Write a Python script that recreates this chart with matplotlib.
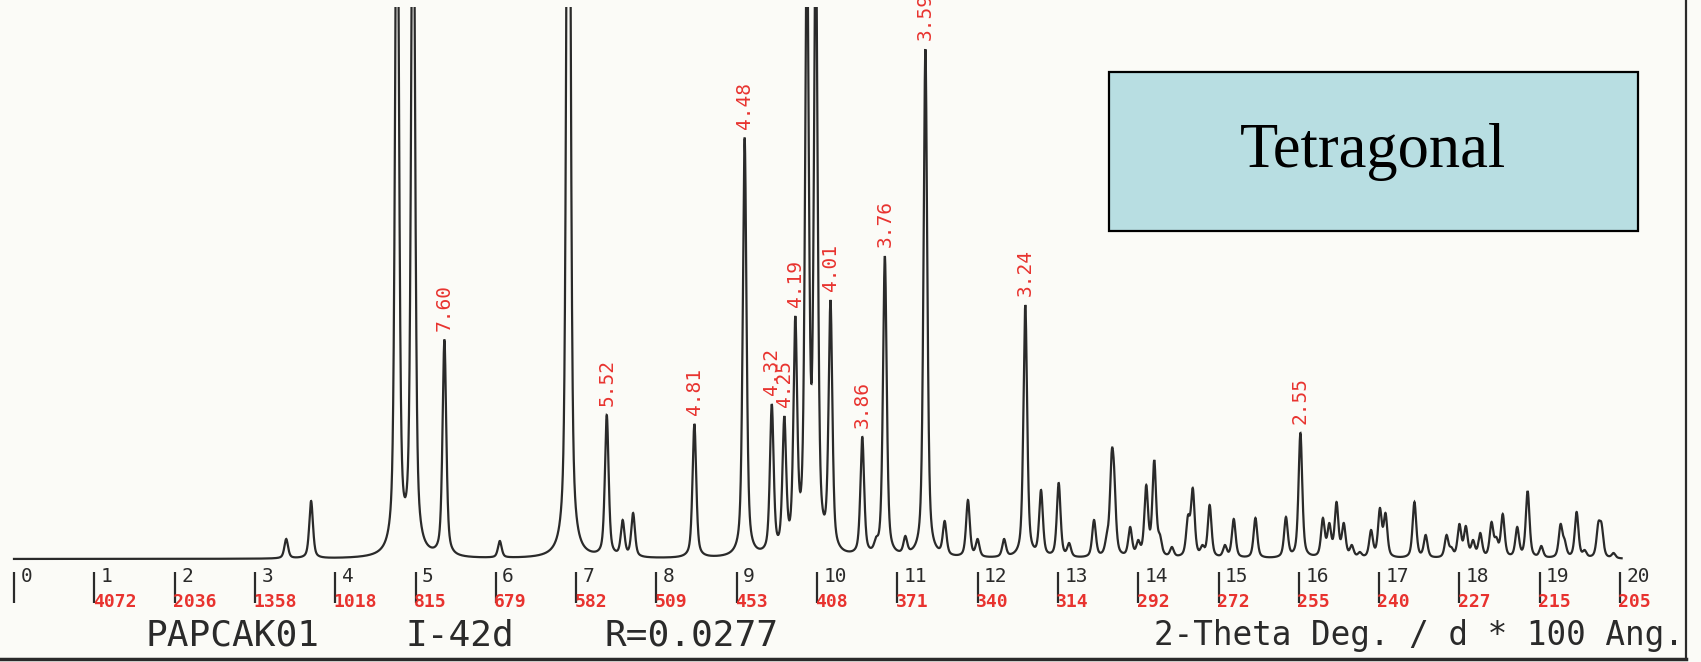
import numpy as np
import matplotlib.pyplot as plt
from matplotlib.patches import Rectangle

# peak list (2-theta in deg, peak top above baseline)
two_theta = [3.39, 3.70, 4.77, 4.97, 5.36, 6.05, 6.905, 7.382, 7.58, 7.71,
             8.473, 9.099, 9.437, 9.593, 9.730, 9.875, 9.985, 10.168, 10.564, 10.735,
             10.845, 11.10, 11.35, 11.59, 11.88, 12.00, 12.33, 12.594, 12.79, 13.01,
             13.14, 13.45, 13.61, 13.67, 13.70, 13.90, 14.00, 14.10, 14.20, 14.27,
             14.42, 14.62, 14.68, 14.80, 14.89, 15.08, 15.19, 15.46, 15.84, 16.02,
             16.30, 16.38, 16.47, 16.56, 16.66, 16.76, 16.90, 17.01, 17.08, 17.44,
             17.58, 17.84, 17.90, 18.00, 18.08, 18.17, 18.26, 18.40, 18.46, 18.54,
             18.72, 18.85, 19.02, 19.26, 19.31, 19.46, 19.56, 19.73, 19.77, 19.92]
peak_height = [20, 58, 800, 800, 219, 18, 1100, 144, 39, 46,
               135, 421, 155, 143, 243, 640, 640, 259, 122, 22,
               303, 23, 510, 38, 59, 20, 20, 254, 69, 76,
               16, 39, 26, 108, 92, 32, 19, 74, 99, 25,
               12, 44, 71, 14, 54, 14, 40, 41, 42, 126,
               41, 36, 57, 36, 14, 7, 29, 51, 46, 57,
               24, 24, 12, 35, 33, 19, 26, 37, 22, 45,
               32, 68, 13, 35, 20, 47, 9, 37, 36, 6]

# labelled reflections (d in Angstrom)
label_theta = [5.36, 7.382, 8.473, 9.099, 9.437, 9.593, 9.730, 10.168,
               10.564, 10.845, 11.35, 12.594, 16.02]
label_text = ["7.60", "5.52", "4.81", "4.48", "4.32", "4.25", "4.19", "4.01",
              "3.86", "3.76", "3.59", "3.24", "2.55"]

# axis ticks: 2-theta and d*100 (Mo K-alpha)
tick_deg = list(range(0, 21))
tick_d = ["", "4072", "2036", "1358", "1018", "815", "679", "582", "509", "453", "408",
          "371", "340", "314", "292", "272", "255", "240", "227", "215", "205"]

FWHM = 0.055
ETA = 0.55


def profile(dx):
    lor = 1.0 / (1.0 + (2 * dx / FWHM) ** 2)
    gau = np.exp(-4 * np.log(2) * (dx / FWHM) ** 2)
    return ETA * lor + (1 - ETA) * gau


pos = np.array(two_theta)
tops = np.array(peak_height, dtype=float)
# amplitudes so that the summed curve hits each peak top
A = profile(pos[:, None] - pos[None, :])
amp = np.clip(np.linalg.solve(A, tops), 0, None)

x = np.linspace(0, 20.02, 12000)
y = (amp[None, :] * profile(x[:, None] - pos[None, :])).sum(axis=1)

W, H = 1701, 662
base_px = 559          # baseline row in the picture
top_px = 7
px_deg = 80.3
x0_px = 14

fig = plt.figure(figsize=(W / 100, H / 100), dpi=100, facecolor="#fbfbf7")
ax = fig.add_axes([0, 0, 1, (H - top_px) / H])
ax.set_xlim(-x0_px / px_deg, (W - x0_px) / px_deg)
ax.set_ylim(-(H - base_px), base_px - top_px)
ax.axis("off")

ink = "#2a2a2a"
red = "#e8332f"
mono = "DejaVu Sans Mono"

ax.plot(x, y, color=ink, lw=1.6, solid_joinstyle="miter")

# d-spacing labels above peaks
for t, s in zip(label_theta, label_text):
    h = np.interp(t, x, y)
    ax.text(t, h + 9, s, rotation=90, ha="center", va="bottom", color=red,
            family=mono, fontsize=14, clip_on=False)

# tick marks and two rows of tick labels
ax.vlines(tick_deg, -44, -13, color=ink, lw=1.6)
for t, d in zip(tick_deg, tick_d):
    ax.text(t + 0.08, -8, str(t), ha="left", va="top", color=ink,
            family=mono, fontsize=14)
    if d:
        ax.text(t - 0.02, -43, d, ha="left", va="center", color=red,
                family=mono, fontsize=13, fontweight="bold")

# bottom caption line
cap_y = 1 - 636 / H
fig.text(145 / W, cap_y, "PAPCAK01", family=mono, fontsize=26, color=ink, va="center")
fig.text(405 / W, cap_y, "I-42d", family=mono, fontsize=26, color=ink, va="center")
fig.text(604 / W, cap_y, "R=0.0277", family=mono, fontsize=26, color=ink, va="center")
fig.text(1684 / W, cap_y, "2-Theta Deg. / d * 100 Ang.", family=mono, fontsize=23.5,
         color=ink, va="center", ha="right")

# frame lines at right and bottom
fig.add_artist(plt.Line2D([1686 / W, 1686 / W], [1 - 659 / H, 1.0],
                          transform=fig.transFigure, color=ink, lw=1.6))
fig.add_artist(plt.Line2D([0, 1686 / W], [1 - 659 / H, 1 - 659 / H],
                          transform=fig.transFigure, color=ink, lw=2.5))

# crystal system box
box = Rectangle((1109 / W, 1 - 231 / H), 529 / W, 159 / H, transform=fig.transFigure,
                facecolor="#b8dee2", edgecolor="black", lw=1.6)
fig.add_artist(box)
fig.text(1373 / W, 1 - 152 / H, "Tetragonal", family="Liberation Serif", fontsize=45,
         ha="center", va="center", color="black")

fig.savefig("out.png", dpi=100, facecolor=fig.get_facecolor())
